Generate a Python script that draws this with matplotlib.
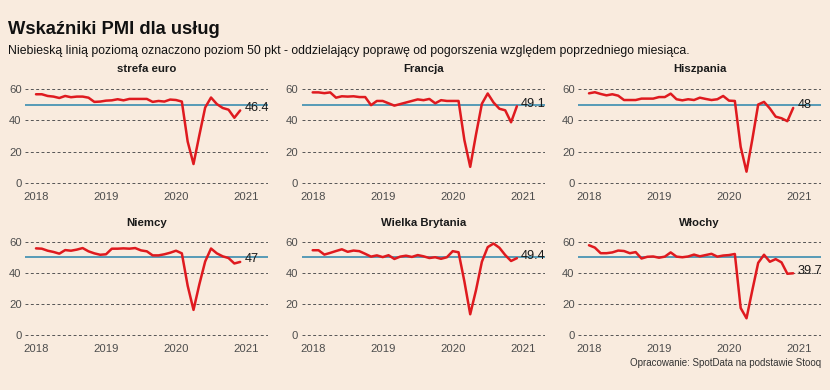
import numpy as np
import matplotlib
matplotlib.use("Agg")
import matplotlib.pyplot as plt

plt.rcParams['font.family'] = ['Liberation Sans', 'DejaVu Sans']

# miesięczne odczyty PMI usług, styczeń 2018 - grudzień 2020
strefa_euro = [56.8, 56.8, 55.7, 55.3, 54.4, 55.7, 54.9, 55.3, 55.3, 54.6, 51.9, 52.1,
               52.7, 52.9, 53.6, 52.9, 53.8, 53.8, 53.8, 53.8, 51.9, 52.5, 52.1, 53.4,
               53.1, 52.1, 26.4, 12.0, 30.5, 48.3, 54.7, 50.5, 48.0, 46.9, 41.7, 46.4]
francja = [58.0, 58.0, 57.5, 58.0, 54.6, 55.5, 55.3, 55.5, 55.0, 55.0, 49.8, 52.5,
           52.5, 51.0, 49.5, 50.5, 51.5, 52.5, 53.5, 53.0, 53.8, 51.0, 53.0, 52.5,
           52.5, 52.5, 27.4, 10.2, 31.1, 50.7, 57.3, 51.5, 47.5, 46.5, 38.8, 49.1]
hiszpania = [57.4, 58.1, 57.0, 56.1, 56.8, 55.9, 53.1, 53.1, 53.1, 54.0, 54.0, 54.0,
             55.0, 55.0, 57.2, 53.6, 52.9, 53.6, 53.1, 54.6, 53.8, 53.1, 53.6, 55.7,
             52.7, 52.5, 23.0, 7.1, 27.9, 50.2, 51.9, 47.7, 42.4, 41.4, 39.5, 48.0]
niemcy = [55.7, 55.5, 54.2, 53.4, 52.3, 54.6, 54.2, 54.9, 55.9, 53.8, 52.5, 51.6,
          51.9, 55.5, 55.5, 55.7, 55.5, 55.9, 54.4, 53.8, 51.2, 51.2, 51.9, 52.9,
          54.2, 52.5, 31.7, 16.2, 32.6, 47.3, 55.6, 52.5, 50.6, 49.5, 46.0, 47.0]
wielka_brytania = [54.5, 54.5, 51.7, 52.8, 54.0, 55.1, 53.5, 54.3, 53.9, 52.2, 50.4, 51.2,
                   50.1, 51.3, 48.9, 50.4, 51.0, 50.2, 51.4, 50.6, 49.5, 50.0, 49.0, 50.0,
                   53.9, 53.2, 34.5, 13.4, 29.0, 47.1, 56.5, 58.8, 56.1, 51.4, 47.6, 49.4]
wlochy = [57.7, 56.2, 52.6, 52.6, 53.1, 54.3, 54.0, 52.6, 53.3, 49.2, 50.3, 50.5,
          49.7, 50.4, 53.1, 50.4, 50.0, 50.5, 51.7, 50.6, 51.4, 52.2, 50.4, 51.1,
          51.4, 52.1, 17.4, 10.8, 28.9, 46.4, 51.6, 47.1, 48.8, 46.7, 39.4, 39.7]

nazwy = ["strefa euro", "Francja", "Hiszpania", "Niemcy", "Wielka Brytania", "Włochy"]
serie = [strefa_euro, francja, hiszpania, niemcy, wielka_brytania, wlochy]
lata = [2018, 2019, 2020, 2021]
y_ticks = [0, 20, 40, 60]

miesiace = 2018 + np.arange(36) / 12

tlo = '#f9ebde'
W, H = 830, 390
fig = plt.figure(figsize=(8.3, 3.9), dpi=100, facecolor=tlo)

fig.text(8 / W, 1 - 34.3 / H, "Wskaźniki PMI dla usług", fontsize=13.2,
         fontweight='bold', color='#111111', va='baseline', ha='left')
fig.text(8 / W, 1 - 54 / H,
         "Niebieską linią poziomą oznaczono poziom 50 pkt - oddzielający poprawę "
         "od pogorszenia względem poprzedniego miesiąca.",
         fontsize=8.8, color='#111111', va='baseline', ha='left')

lewe = [25, 301.7, 578]
szer = 243
gory = [84.6, 237.0]
wys = 102.8
tytul_y = [72.5, 225.5]

for i, (nazwa, s) in enumerate(zip(nazwy, serie)):
    r, c = divmod(i, 3)
    ax = fig.add_axes([lewe[c] / W, 1 - (gory[r] + wys) / H, szer / W, wys / H])
    ax.set_facecolor(tlo)
    ax.plot(miesiace, s, color='#df1a1f', lw=1.8, zorder=3, solid_capstyle='round')
    ax.axhline(50, color='#2a84ac', lw=1.1, zorder=2)
    ax.set_xlim(2017.843, 2021.314)
    ax.set_ylim(-3, 63)
    ax.set_xticks(lata)
    ax.set_xticklabels([str(r_) for r_ in lata])
    ax.set_yticks(y_ticks)
    ax.tick_params(length=0, labelsize=8.1, labelcolor='#4d4d4d')
    ax.tick_params(axis='x', pad=3)
    ax.tick_params(axis='y', pad=2.4)
    ax.yaxis.grid(True, color='#555555', lw=0.7, linestyle=(0, (3, 2.5)))
    ax.xaxis.grid(False)
    ax.set_axisbelow(True)
    for sp in ax.spines.values():
        sp.set_visible(False)
    ax.annotate(f"{s[-1]:g}", (miesiace[-1], s[-1]), xytext=(3, 1.8),
                textcoords='offset points', ha='left', va='center',
                fontsize=9.2, color='#1a1a1a', zorder=4, annotation_clip=False)
    fig.text((lewe[c] + szer / 2) / W, 1 - tytul_y[r] / H, nazwa, fontsize=8.2,
             fontweight='bold', color='#1a1a1a', ha='center', va='baseline')

fig.text(821 / W, 1 - 365.5 / H, "Opracowanie: SpotData na podstawie Stooq",
         fontsize=7.05, color='#333333', ha='right', va='baseline')

fig.savefig("out.png", dpi=100, facecolor=tlo)
